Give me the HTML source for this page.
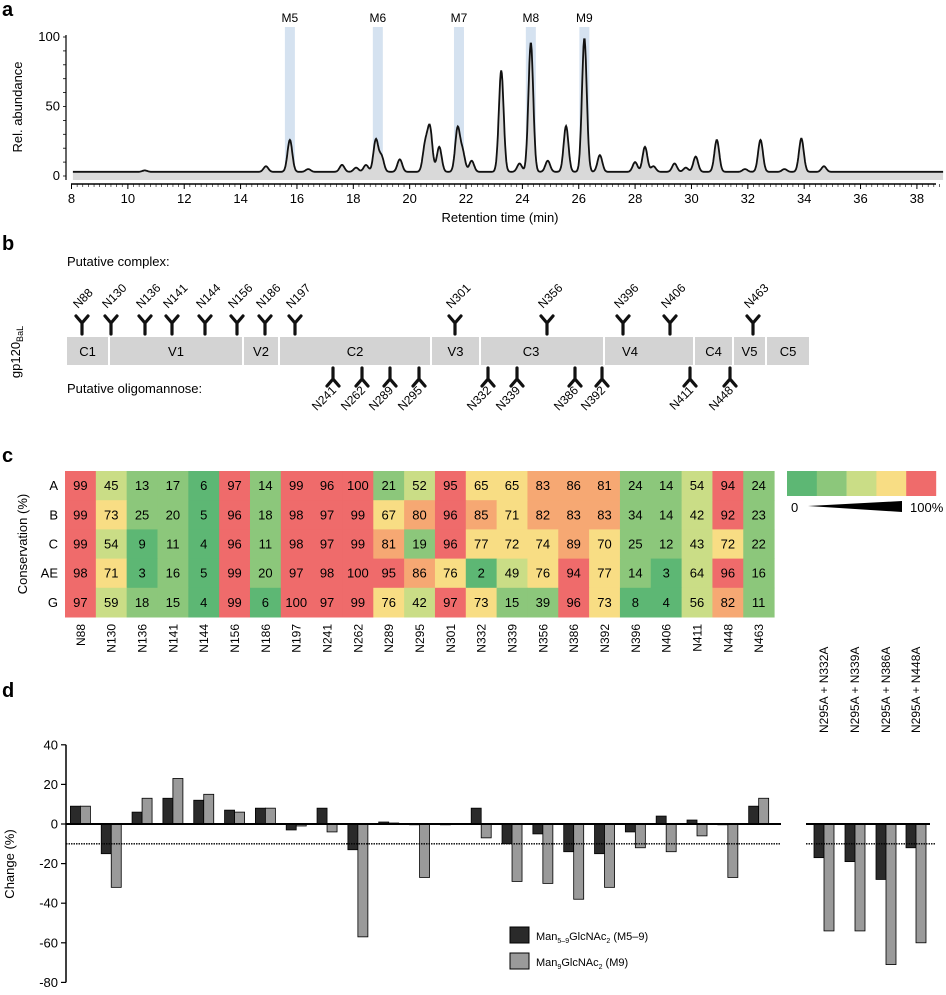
<!DOCTYPE html>
<html><head><meta charset="utf-8"><style>
html,body{margin:0;padding:0;background:#fff}
svg{display:block;font-family:"Liberation Sans",sans-serif}
</style></head><body>
<svg id="fig" width="946" height="995" viewBox="0 0 946 995" xmlns="http://www.w3.org/2000/svg">
<text x="2" y="16" font-size="20" font-weight="bold">a</text>
<text x="2" y="250" font-size="20" font-weight="bold">b</text>
<text x="2" y="462" font-size="20" font-weight="bold">c</text>
<text x="2" y="697" font-size="20" font-weight="bold">d</text>
<g id="pa"></g>
<g id="pb"></g>
<g id="pc"></g>
<g id="pd"></g>
</svg>
<script>
// ---------- Panel a data ----------
const peakTimes=[10.6,14.9,15.75,16.4,17.6,18.1,18.45,18.8,19.0,19.65,20.55,20.72,21.05,21.7,21.88,22.2,23.25,23.9,24.3,24.9,25.55,26.2,26.75,28.0,28.35,28.65,29.4,29.8,30.15,30.9,31.9,32.45,33.3,33.9,34.7];
const peakHeights=[1,4,23,2,5,3,5,23,11,9,19,31,18,31,14,8,73,6,93,8,33,96,12,7,18,4,6,3,11,23,2,23,2,24,4];
const bandTimes=[15.75,18.87,21.75,24.3,26.2];
const bandLabels=["M5","M6","M7","M8","M9"];
const aXTicks=[8,10,12,14,16,18,20,22,24,26,28,30,32,34,36,38];
const aYTicks=[0,50,100];
// ---------- Panel b data ----------
const segNames=["C1","V1","V2","C2","V3","C3","V4","C4","V5","C5"];
const segStart=[67,110,244,280,432,481,605,695,734,767];
const segEnd=[108,242,278,430,479,603,693,732,765,809];
const complexSites=["N88","N130","N136","N141","N144","N156","N186","N197","N301","N356","N396","N406","N463"];
const complexPos=[82,111,145,172,205,237,265,295,455,547,623,670,753];
const manSites=["N241","N262","N289","N295","N332","N339","N386","N392","N411","N448"];
const manPos=[333,362,390,419,488,517,575,602,690,730];
// ---------- Panel c data ----------
const sites=["N88","N130","N136","N141","N144","N156","N186","N197","N241","N262","N289","N295","N301","N332","N339","N356","N386","N392","N396","N406","N411","N448","N463"];
const clades=["A","B","C","AE","G"];
const consA=[99,45,13,17,6,97,14,99,96,100,21,52,95,65,65,83,86,81,24,14,54,94,24];
const consB=[99,73,25,20,5,96,18,98,97,99,67,80,96,85,71,82,83,83,34,14,42,92,23];
const consC=[99,54,9,11,4,96,11,98,97,99,81,19,96,77,72,74,89,70,25,12,43,72,22];
const consAE=[98,71,3,16,5,99,20,97,98,100,95,86,76,2,49,76,94,77,14,3,64,96,16];
const consG=[97,59,18,15,4,99,6,100,97,99,76,42,97,73,15,39,96,73,8,4,56,82,11];
// ---------- Panel d data ----------
const changeM59=[9,-15,6,13,12,7,8,-3,8,-13,1,0,0,8,-10,-5,-14,-15,-4,4,2,0,9];
const changeM9=[9,-32,13,23,15,6,8,-1,-4,-57,0.5,-27,0.3,-7,-29,-30,-38,-32,-12,-14,-6,-27,13];
const combLabels=["N295A + N332A","N295A + N339A","N295A + N386A","N295A + N448A"];
const combM59=[-17,-19,-28,-12];
const combM9=[-54,-54,-71,-60];
const dYTicks=[40,20,0,-20,-40,-60,-80];
const threshold=-10;

const NS="http://www.w3.org/2000/svg";
function mk(parent,tag,attrs,txt){const e=document.createElementNS(NS,tag);for(const k in attrs)e.setAttribute(k,attrs[k]);if(txt!==undefined)e.textContent=txt;parent.appendChild(e);return e;}

// ===== Panel a =====
(function(){
const g=document.getElementById('pa');
const xa=t=>71.5+(t-8)*28.18, ya=v=>176-v*1.39;
bandTimes.forEach((t,i)=>{
 const r=mk(g,'rect',{x:xa(t)-5,y:27,width:10,height:149,fill:'#d5e2f0'});
 
 const tx=mk(g,'text',{x:xa(t),y:22,'font-size':12,'text-anchor':'middle'},bandLabels[i]);
 
});
let pts=[];
for(let t=8.05;t<=38.95;t+=0.02){let v=3;for(let k=0;k<peakTimes.length;k++){const d=(t-peakTimes[k])/0.085;v+=peakHeights[k]*Math.exp(-0.5*d*d);}pts.push([xa(t),ya(v)]);}
const dstr=pts.map((p,i)=>(i?'L':'M')+p[0].toFixed(1)+','+p[1].toFixed(1)).join('');
const area=mk(g,'path',{d:dstr+'L'+pts[pts.length-1][0].toFixed(1)+',180L'+pts[0][0].toFixed(1)+',180Z',fill:'#d9d9d9'});

const line=mk(g,'path',{d:dstr,fill:'none',stroke:'#111','stroke-width':1.8});

const yax=mk(g,'line',{x1:66,y1:35,x2:66,y2:180,stroke:'#000','stroke-width':1.2});

for(let v=0;v<=100;v+=10){mk(g,'line',{x1:63,x2:66,y1:ya(v),y2:ya(v),stroke:'#000','stroke-width':0.8});}
aYTicks.forEach(v=>{const t=mk(g,'text',{x:60,y:ya(v)+4,'font-size':13,'text-anchor':'end'},v);});
const xax=mk(g,'line',{x1:71,y1:184,x2:936,y2:184,stroke:'#000','stroke-width':1.5});

for(let t=8;t<=38.95;t+=0.2){mk(g,'line',{x1:xa(t),x2:xa(t),y1:184,y2:187,stroke:'#000','stroke-width':0.6});}
aXTicks.forEach(v=>{mk(g,'line',{x1:xa(v),x2:xa(v),y1:184,y2:189,stroke:'#000','stroke-width':1});const t=mk(g,'text',{x:xa(v),y:203,'font-size':13,'text-anchor':'middle'},v);});
const xt=mk(g,'text',{x:500,y:222,'font-size':13,'text-anchor':'middle'},'Retention time (min)');

const yt=mk(g,'text',{x:0,y:0,'font-size':13,'text-anchor':'middle',transform:'translate(22,107) rotate(-90)'},'Rel. abundance');

})();

// ===== Panel b =====
(function(){
const g=document.getElementById('pb');
const t1=mk(g,'text',{x:67,y:266,'font-size':13},'Putative complex:');
const t2=mk(g,'text',{x:67,y:393,'font-size':13},'Putative oligomannose:');
const gl=mk(g,'text',{x:0,y:0,'font-size':13,'text-anchor':'middle',transform:'translate(20,352) rotate(-90)'});

gl.innerHTML='gp120<tspan font-size="9" dy="3">BaL</tspan>';
segNames.forEach((n,i)=>{
 const r=mk(g,'rect',{x:segStart[i],y:337,width:segEnd[i]-segStart[i],height:28,fill:'#d3d3d3'});
 
 const cx=(n==='V4')?630:(n==='C3')?531:(segStart[i]+segEnd[i])/2;
 const t=mk(g,'text',{x:cx,y:356,'font-size':13,'text-anchor':'middle'},n);
});
const glyph=(x,up)=>{const s=up?1:-1,b=up?334:368;return `M${x},${b} L${x},${b-s*11} M${x},${b-s*11} L${x-6},${b-s*18} M${x},${b-s*11} L${x+6},${b-s*18}`;};
complexSites.forEach((n,i)=>{
 const x=complexPos[i];
 const p=mk(g,'path',{d:glyph(x,true),stroke:'#111','stroke-width':3.2,fill:'none','stroke-linecap':'round'});
 
 const t=mk(g,'text',{x:0,y:0,'font-size':12,transform:`translate(${x-4},${309}) rotate(-45)`},n);
 
});
manSites.forEach((n,i)=>{
 const x=manPos[i];
 const p=mk(g,'path',{d:glyph(x,false),stroke:'#111','stroke-width':3.2,fill:'none','stroke-linecap':'round'});
 
 const t=mk(g,'text',{x:0,y:0,'font-size':12,'text-anchor':'end',transform:`translate(${x+4},${391}) rotate(-45)`},n);
 
});
})();

// ===== Panel c =====
(function(){
const g=document.getElementById('pc');
const rows=[consA,consB,consC,consAE,consG];
const x0=65,cw=30.83,y0=471,rh=29.2;
const col=v=>v<10?'#5db774':v<40?'#8cc77b':v<65?'#cadd86':v<80?'#f8dd84':v<90?'#f6a873':'#ef6b6b';
rows.forEach((row,r)=>{
 row.forEach((v,c)=>{
  const rc=mk(g,'rect',{x:x0+c*cw,y:y0+r*rh,width:cw+0.5,height:rh+0.5,fill:col(v)});
  
  const t=mk(g,'text',{x:x0+c*cw+cw/2,y:y0+r*rh+rh/2+4.5,'font-size':13,'text-anchor':'middle'},v);
  
 });
 const l=mk(g,'text',{x:58,y:y0+r*rh+rh/2+4.5,'font-size':13,'text-anchor':'end'},clades[r]);
 
});
sites.forEach((s,c)=>{const t=mk(g,'text',{x:0,y:0,'font-size':12,'text-anchor':'end',transform:`translate(${x0+c*cw+cw/2+4.5},${624}) rotate(-90)`},s);});
const yt=mk(g,'text',{x:0,y:0,'font-size':13,'text-anchor':'middle',transform:'translate(27,544) rotate(-90)'},'Conservation (%)');

['#5db774','#8cc77b','#cadd86','#f8dd84','#ef6b6b'].forEach((c,i)=>{const r=mk(g,'rect',{x:787+i*29.8,y:471,width:30,height:25,fill:c});});
const z=mk(g,'text',{x:791,y:512,'font-size':13},'0');
const w=mk(g,'path',{d:'M808,506 L902,501 L902,512 Z',fill:'#000'});
const h=mk(g,'text',{x:910,y:512,'font-size':13},'100%');
})();

// ===== Panel d =====
(function(){
const g=document.getElementById('pd');
const yd=v=>824-v*1.98;
const x0=65,cw=30.83;
const bar=(cx,v,fill,name)=>{const y=Math.min(yd(v),yd(0)),h=Math.max(Math.abs(yd(v)-yd(0)),0.8);const r=mk(g,'rect',{x:cx,y:y,width:10,height:h,fill:fill,stroke:'#000','stroke-width':0.8});};
sites.forEach((s,i)=>{const c=x0+i*cw+cw/2;bar(c-10,changeM59[i],'#2a2a2a','bar-m5-9-'+s.toLowerCase());bar(c,changeM9[i],'#9a9a9a','bar-m9-'+s.toLowerCase());});
const rc=[824,855,886,916];
combLabels.forEach((s,i)=>{bar(rc[i]-10,combM59[i],'#2a2a2a','bar-m5-9-combo');bar(rc[i],combM9[i],'#9a9a9a','bar-m9-combo');
 const t=mk(g,'text',{x:0,y:0,'font-size':12,transform:`translate(${rc[i]+4},${733}) rotate(-90)`},s);});
const z1=mk(g,'line',{x1:66,x2:781,y1:yd(0),y2:yd(0),stroke:'#000','stroke-width':2});
const z2=mk(g,'line',{x1:806,x2:930,y1:yd(0),y2:yd(0),stroke:'#000','stroke-width':2});
const d1=mk(g,'line',{x1:66,x2:781,y1:yd(threshold),y2:yd(threshold),stroke:'#000','stroke-width':1.3,'stroke-dasharray':'1.5,1'});
const d2=mk(g,'line',{x1:806,x2:936,y1:yd(threshold),y2:yd(threshold),stroke:'#000','stroke-width':1.3,'stroke-dasharray':'1.5,1'});
const ya=mk(g,'line',{x1:66,x2:66,y1:yd(40),y2:yd(-80),stroke:'#000','stroke-width':1.5});
dYTicks.forEach(v=>{mk(g,'line',{x1:61,x2:66,y1:yd(v),y2:yd(v),stroke:'#000','stroke-width':1.2});const t=mk(g,'text',{x:58,y:yd(v)+4.5,'font-size':13,'text-anchor':'end'},v);});
const yt=mk(g,'text',{x:0,y:0,'font-size':13,'text-anchor':'middle',transform:'translate(14,864) rotate(-90)'},'Change (%)');
const l1=mk(g,'rect',{x:510,y:927,width:19,height:16,fill:'#2a2a2a',stroke:'#000'});
const l2=mk(g,'rect',{x:510,y:953,width:19,height:16,fill:'#9a9a9a',stroke:'#000'});
const lt1=mk(g,'text',{x:536,y:940,'font-size':11});lt1.innerHTML='Man<tspan font-size="7" dy="3">5–9</tspan><tspan dy="-3">GlcNAc</tspan><tspan font-size="7" dy="3">2</tspan><tspan dy="-3"> (M5–9)</tspan>';

const lt2=mk(g,'text',{x:536,y:966,'font-size':11});lt2.innerHTML='Man<tspan font-size="7" dy="3">9</tspan><tspan dy="-3">GlcNAc</tspan><tspan font-size="7" dy="3">2</tspan><tspan dy="-3"> (M9)</tspan>';

})();
</script>
</body></html>
